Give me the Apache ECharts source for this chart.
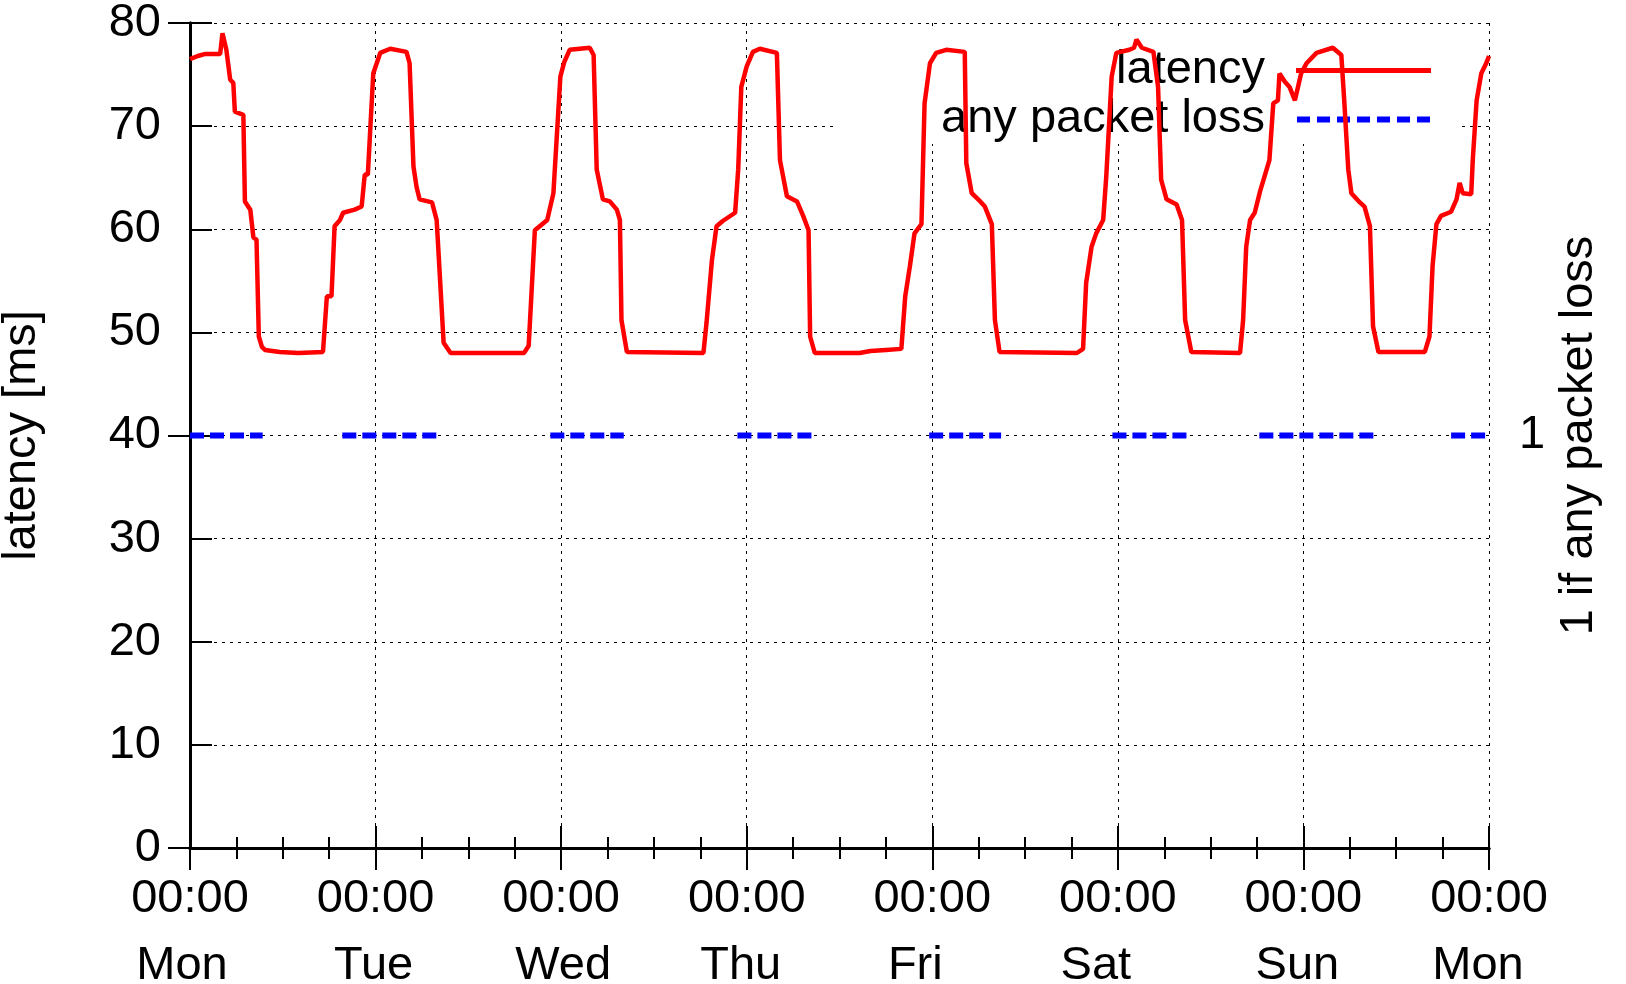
<!DOCTYPE html>
<html>
<head>
<meta charset="utf-8">
<script src="https://cdn.jsdelivr.net/npm/echarts@6/dist/echarts.min.js"></script>
<style>
  html, body { margin: 0; padding: 0; background: #fff; }
  #chart { width: 1626px; height: 984px; }
</style>
</head>
<body>
<div id="chart"></div>
<script>
// hours since Monday 00:00
const hours = [
  0, 1, 2, 3.9, 4.2, 4.7, 5.2, 5.6, 5.8, 6.9, 7.1, 7.8, 8.2, 8.6, 8.9, 9.3, 9.7, 11.6, 14, 17.2,
  17.7, 18.3, 18.7, 19.4, 19.8, 21.3, 22.2, 22.6, 23.0, 23.7, 24.6, 25.9, 28.0, 28.4, 28.9, 29.3,
  29.7, 31.3, 31.9, 32.1, 32.8, 33.7, 43.2, 43.8, 44.6, 46.2, 47.0, 47.9, 48.4, 49.1, 51.7, 52.2,
  52.6, 53.4, 54.3, 55.2, 55.6, 55.8, 56.5, 66.4, 66.8, 67.5, 68.1, 68.9, 70.5, 70.9, 71.3, 72.0,
  72.8, 73.7, 75.9, 76.3, 77.2, 78.5, 79.3, 80.0, 80.2, 80.8, 86.6, 88, 90, 92.0, 92.5, 93.1,
  93.7, 94.6, 95.0, 95.7, 96.5, 97.8, 100.2, 100.4, 101.1, 102.2, 102.8, 103.7, 104.1, 104.7,
  114.7, 115.5, 115.9, 116.6, 117.2, 118.1, 118.5, 119.2, 119.8, 121.5, 122.1, 122.4, 123.1,
  124.6, 125.2, 125.6, 126.3, 127.6, 128.3, 128.7, 129.5, 135.8, 136.2, 136.6, 137.1, 137.7,
  138.4, 139.6, 140.1, 140.7, 140.9, 141.6, 142.2, 142.9, 143.7, 144.4, 145.7, 147.8, 148.9,
  149.3, 149.8, 150.2, 151.3, 151.9, 152.6, 153.0, 153.7, 159.7, 160.3, 160.7, 161.2, 161.8,
  163.1, 163.8, 164.2, 164.6, 165.7, 165.9, 166.4, 167.0, 167.7, 168
]
// latency in ms
const latency = [
  76.5, 76.8, 77.0, 77.0, 79.0, 77.4, 74.5, 74.2, 71.4, 71.1, 62.7, 61.9, 59.2, 59.0, 49.6, 48.6, 48.3, 48.1, 48.0, 48.1,
  53.5, 53.5, 60.3, 60.9, 61.6, 61.9, 62.2, 65.3, 65.3, 75.1, 77.1, 77.5, 77.2, 76.1, 66.1, 64.1,
  62.9, 62.6, 60.9, 58.3, 49.0, 48.0, 48.0, 48.7, 59.9, 60.9, 63.5, 74.8, 76.2, 77.4, 77.6, 76.9,
  65.8, 62.9, 62.7, 61.9, 60.9, 51.2, 48.1, 48.0, 50.9, 57.0, 60.3, 60.8, 61.6, 65.8, 73.8, 75.8,
  77.2, 77.5, 77.1, 66.7, 63.2, 62.7, 61.3, 59.9, 49.6, 48.0, 48.0, 48.2, 48.3, 48.4, 53.5, 56.4,
  59.6, 60.5, 72.2, 76.1, 77.1, 77.4, 77.2, 66.4, 63.5, 62.7, 62.2, 60.5, 51.2, 48.1,
  48.0, 48.4, 54.8, 58.3, 59.6, 60.9, 65.1, 74.8, 77.1, 77.4, 77.6, 78.4, 77.6,
  77.2, 73.8, 64.8, 62.9, 62.4, 60.9, 51.2, 48.1, 48.0, 51.2, 58.3, 60.9, 61.6,
  63.7, 66.7, 72.2, 72.5, 75.1, 74.3, 73.8, 72.5, 75.1, 76.1, 77.1, 77.6, 76.9,
  72.2, 65.8, 63.5, 62.6, 62.2, 60.3, 50.6, 48.1, 48.1, 49.6, 56.4, 60.5, 61.3,
  61.7, 62.9, 64.5, 63.5, 63.4, 66.7, 72.5, 75.1, 76.2, 76.8
]
// periods with any packet loss (hours)
const lossStart = [0, 19.7, 46.6, 70.8, 95.6, 119.3, 138.3, 163.1]
const lossEnd = [9.4, 32.3, 56.1, 80.5, 104.9, 129.0, 153.3, 168]
const dayNames = ['Mon', 'Tue', 'Wed', 'Thu', 'Fri', 'Sat', 'Sun', 'Mon']
// small horizontal nudge of each day name (px), as in the original plot
const dayShift = [-8, -2, 2, -6, -17, -22, -6, -11]

const font = 'Liberation Sans, Arial, sans-serif'
const black = '#000'

const latencyData = hours.map((h, i) => [h, latency[i]])
const lossData = []
lossStart.forEach((s, i) => {
  lossData.push([s, 1], [lossEnd[i], 1], [lossEnd[i], '-'])
})

// legend keys: solid bar and dashed bar
const solidIcon = 'path://M0,0L135,0L135,5L0,5Z'
let dashedIcon = 'path://'
for (let x = 0; x < 135; x += 20) {
  dashedIcon += 'M' + x + ',0L' + (x + 13) + ',0L' + (x + 13) + ',6L' + x + ',6Z'
}

const dayRich = {}
dayShift.forEach((s, i) => {
  dayRich['d' + i] = {
    fontSize: 47,
    lineHeight: 67,
    color: black,
    fontFamily: font,
    padding: s < 0 ? [0, -2 * s, 0, 0] : [0, 0, 0, 2 * s]
  }
})

const chart = echarts.init(document.getElementById('chart'))
chart.setOption({
  backgroundColor: '#fff',
  animation: false,
  textStyle: { fontFamily: font, color: black },
  grid: { left: 190, right: 137, top: 23, bottom: 136, outerBoundsMode: 'none', containLabel: false },
  legend: {
    data: [
      { name: 'latency', icon: solidIcon },
      { name: 'any packet loss', icon: dashedIcon }
    ],
    orient: 'vertical',
    align: 'right',
    right: 195,
    top: 47,
    padding: 0,
    itemGap: 2,
    itemWidth: 135,
    itemHeight: 6,
    z: 2,
    textStyle: { fontSize: 47, color: black, fontFamily: font, padding: [0, 26, 0, 0] }
  },
  graphic: [{
    type: 'rect',
    z: 1,
    shape: { x: 833, y: 26, width: 627, height: 118 },
    style: { fill: '#fff' }
  }],
  xAxis: [
    {
      type: 'value',
      min: 0,
      max: 168,
      interval: 24,
      axisLine: { lineStyle: { color: black, width: 3 } },
      axisTick: { inside: true, length: 22, lineStyle: { color: black, width: 2 } },
      minorTick: { show: true, splitNumber: 4, length: 11, lineStyle: { color: black, width: 2 } },
      splitLine: { show: true, lineStyle: { color: black, width: 1, type: [3, 5] } },
      axisLabel: {
        fontSize: 47,
        color: black,
        margin: 18,
        lineHeight: 67,
        rich: dayRich,
        formatter: v => {
          const i = Math.round(v / 24)
          return '00:00\n{d' + i + '|' + dayNames[i] + '}'
        }
      }
    },
    {
      type: 'value',
      position: 'top',
      min: 0,
      max: 168,
      interval: 24,
      z: 4,
      axisLine: { lineStyle: { color: black, width: 3 } },
      axisTick: { inside: true, length: 22, lineStyle: { color: black, width: 2 } },
      minorTick: { show: true, splitNumber: 4, length: 11, lineStyle: { color: black, width: 2 } },
      splitLine: { show: false },
      axisLabel: { show: false }
    }
  ],
  yAxis: [
    {
      type: 'value',
      min: 0,
      max: 80,
      interval: 10,
      name: 'latency [ms]',
      nameLocation: 'middle',
      nameRotate: 90,
      nameGap: 144,
      nameTextStyle: { fontSize: 47, color: black },
      axisLine: { show: true, lineStyle: { color: black, width: 3 } },
      axisTick: { show: true, inside: true, length: 22, lineStyle: { color: black, width: 2 } },
      splitLine: { show: true, lineStyle: { color: black, width: 1, type: [3, 5] } },
      axisLabel: { fontSize: 47, color: black, margin: 29 }
    },
    {
      type: 'value',
      position: 'right',
      min: 0,
      max: 2,
      interval: 1,
      name: '1 if any packet loss',
      nameLocation: 'middle',
      nameRotate: 90,
      nameGap: 52,
      nameTextStyle: { fontSize: 47, color: black },
      axisLine: { show: true, lineStyle: { color: black, width: 3 } },
      axisTick: { show: true, inside: true, length: 22, lineStyle: { color: black, width: 2 } },
      splitLine: { show: false },
      axisLabel: {
        fontSize: 47,
        color: black,
        margin: 30,
        formatter: v => (v === 1 ? '1' : '')
      }
    }
  ],
  series: [
    {
      name: 'latency',
      type: 'line',
      z: 3,
      yAxisIndex: 0,
      symbol: 'none',
      data: latencyData,
      lineStyle: { color: '#ff0000', width: 4.5 },
      itemStyle: { color: '#ff0000' }
    },
    {
      name: 'any packet loss',
      type: 'line',
      z: 3,
      yAxisIndex: 1,
      symbol: 'none',
      connectNulls: false,
      data: lossData,
      lineStyle: { color: '#0000ff', width: 6, type: [14, 6] },
      itemStyle: { color: '#0000ff' }
    }
  ]
})
</script>
</body>
</html>
